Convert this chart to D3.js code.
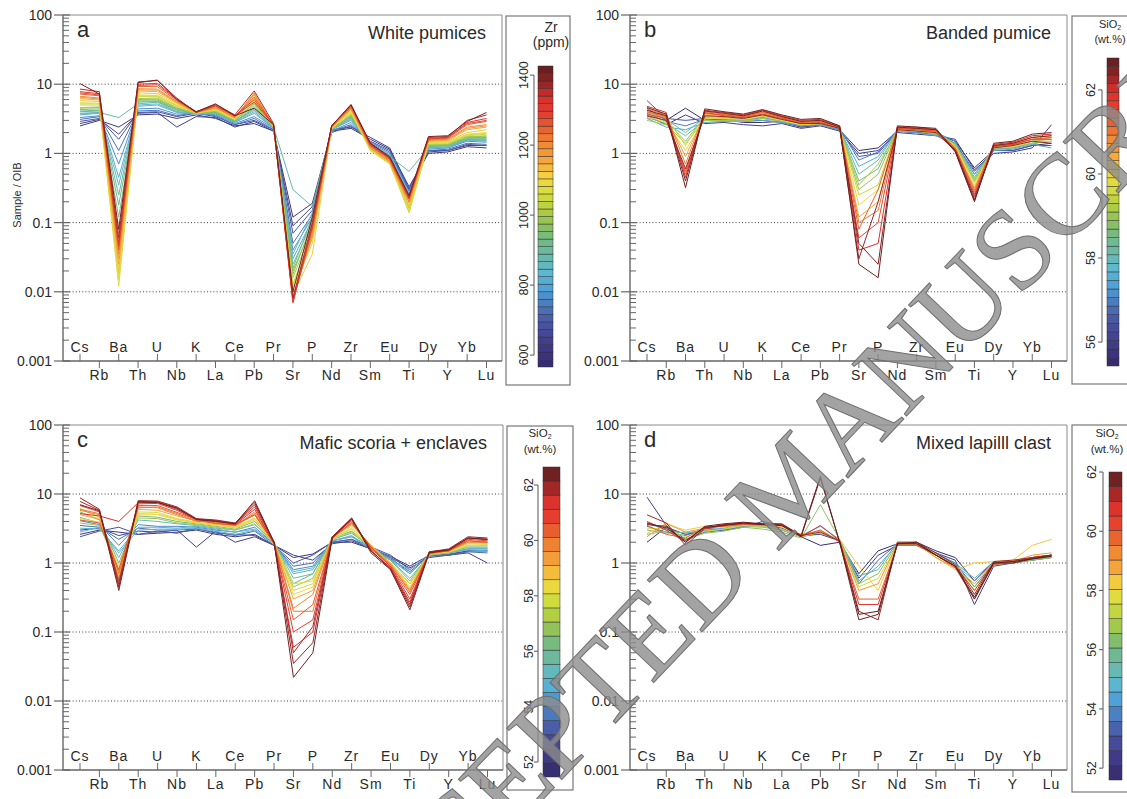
<!DOCTYPE html>
<html>
<head>
<meta charset="utf-8">
<script src="https://cdn.jsdelivr.net/npm/d3@7"></script>
<style>
body { margin: 0; background: #fff; }
svg { display: block; }
text { font-family: "Liberation Sans", Arial, sans-serif; fill: #2a2a2a; }
</style>
</head>
<body>
<svg id="chart" width="1127" height="799"></svg>
<script>
// element order of the OIB-normalised spider diagram
const elements = ["Cs","Rb","Ba","Th","U","Nb","K","La","Ce","Pb","Pr","Sr","P","Nd","Zr","Sm","Eu","Ti","Dy","Y","Yb","Lu"];
const yTicks = [100, 10, 1, 0.1, 0.01, 0.001];
const yTickLabels = ["100", "10", "1", "0.1", "0.01", "0.001"];
const gridValues = [10, 1, 0.1, 0.01];

// a - white pumices, coloured by Zr (ppm)
const zrA = [620, 650, 690, 730, 770, 820, 880, 900, 950, 1000, 1040, 1080, 1120, 1160, 1200, 1250, 1300, 1360, 1400,
  840, 920, 980, 1060, 1180, 1280];
const whitePumices = [
  [2.5, 3.0, 2.4, 3.6, 3.7, 3.2, 3.6, 3.2, 2.5, 2.7, 2.1, 0.12, 0.19, 2.1, 2.3, 1.6, 1.15, 0.33, 1.0, 1.05, 1.25, 1.2],
  [2.7, 3.1, 1.9, 3.8, 3.9, 2.4, 3.4, 3.3, 2.4, 2.9, 2.1, 0.09, 0.17, 2.2, 2.4, 1.7, 1.2, 0.3, 1.05, 1.1, 1.3, 1.3],
  [2.9, 3.2, 1.6, 3.9, 4.0, 3.4, 3.8, 3.4, 2.6, 3.0, 2.2, 0.07, 0.15, 2.0, 2.5, 1.5, 1.1, 0.31, 1.1, 1.1, 1.35, 1.3],
  [3.1, 3.4, 1.1, 4.1, 4.2, 3.5, 3.9, 3.5, 2.6, 3.2, 2.2, 0.05, 0.13, 2.1, 2.6, 1.45, 1.05, 0.29, 1.1, 1.15, 1.4, 1.35],
  [3.3, 3.5, 0.7, 4.4, 4.5, 3.7, 3.8, 3.6, 2.7, 3.4, 2.3, 0.04, 0.12, 2.1, 2.8, 1.4, 1.0, 0.28, 1.15, 1.2, 1.5, 1.45],
  [3.6, 3.8, 0.45, 4.8, 5.0, 3.9, 3.7, 3.7, 2.8, 3.8, 2.3, 0.03, 0.11, 2.2, 3.0, 1.35, 0.95, 0.26, 1.2, 1.2, 1.55, 1.5],
  [3.8, 3.9, 3.3, 5.2, 5.5, 4.0, 3.8, 3.8, 2.9, 4.2, 2.4, 0.3, 0.17, 2.2, 3.2, 1.3, 0.9, 0.55, 1.2, 1.25, 1.6, 1.55],
  [4.0, 4.1, 0.25, 5.5, 5.6, 4.2, 3.8, 3.9, 2.9, 4.4, 2.3, 0.025, 0.1, 2.2, 3.3, 1.3, 0.9, 0.22, 1.25, 1.3, 1.6, 1.6],
  [4.3, 4.4, 0.12, 5.9, 5.9, 4.4, 3.9, 4.0, 3.0, 4.9, 2.4, 0.02, 0.09, 2.3, 3.5, 1.25, 0.85, 0.2, 1.3, 1.3, 1.7, 1.7],
  [4.6, 4.7, 0.05, 6.2, 6.3, 4.6, 3.8, 4.1, 3.0, 5.4, 2.4, 0.016, 0.08, 2.2, 3.7, 1.2, 0.8, 0.16, 1.35, 1.35, 1.75, 1.8],
  [5.0, 5.0, 0.02, 6.6, 6.6, 4.8, 3.9, 4.2, 3.1, 5.8, 2.4, 0.013, 0.07, 2.3, 3.9, 1.15, 0.75, 0.14, 1.4, 1.4, 1.8, 1.9],
  [5.4, 5.3, 0.012, 7.0, 6.9, 5.0, 3.8, 4.3, 3.1, 6.2, 2.5, 0.011, 0.05, 2.3, 4.0, 1.1, 0.7, 0.15, 1.45, 1.45, 1.9, 2.0],
  [5.8, 5.6, 0.018, 7.5, 7.3, 5.2, 3.9, 4.4, 3.2, 6.6, 2.5, 0.009, 0.035, 2.3, 4.2, 1.15, 0.72, 0.17, 1.5, 1.5, 2.0, 2.2],
  [6.2, 5.9, 0.025, 8.0, 7.8, 5.4, 3.9, 4.5, 3.3, 7.0, 2.5, 0.009, 0.06, 2.4, 4.4, 1.2, 0.75, 0.19, 1.5, 1.55, 2.2, 2.4],
  [6.7, 6.3, 0.035, 8.6, 8.5, 5.6, 4.0, 4.6, 3.3, 7.5, 2.5, 0.008, 0.07, 2.4, 4.5, 1.25, 0.78, 0.2, 1.55, 1.6, 2.4, 2.6],
  [7.2, 6.8, 0.04, 9.3, 9.2, 5.8, 3.9, 4.8, 3.4, 6.5, 2.6, 0.008, 0.08, 2.4, 4.7, 1.3, 0.82, 0.22, 1.6, 1.65, 2.6, 2.9],
  [7.8, 7.3, 0.05, 10.0, 10.3, 6.1, 4.0, 4.9, 3.5, 5.5, 2.6, 0.007, 0.09, 2.5, 4.9, 1.35, 0.85, 0.23, 1.65, 1.7, 2.8, 3.2],
  [8.5, 7.8, 0.06, 10.8, 11.3, 6.3, 3.9, 5.1, 3.6, 8.0, 2.7, 0.008, 0.1, 2.5, 5.0, 1.4, 0.87, 0.25, 1.7, 1.75, 3.0, 3.6],
  [10.2, 7.2, 0.08, 10.5, 11.5, 6.0, 4.0, 5.2, 3.5, 4.5, 2.6, 0.01, 0.12, 2.5, 5.1, 1.4, 0.9, 0.24, 1.75, 1.8, 2.9, 3.9],
  [3.7, 3.9, 0.35, 5.0, 5.2, 4.0, 3.8, 3.8, 2.8, 4.0, 2.3, 0.035, 0.14, 2.2, 3.1, 1.35, 0.95, 0.25, 1.2, 1.25, 1.55, 1.55],
  [4.1, 4.2, 0.18, 5.7, 5.7, 4.3, 3.9, 3.9, 2.9, 4.6, 2.4, 0.022, 0.12, 2.3, 3.4, 1.3, 0.88, 0.21, 1.25, 1.3, 1.65, 1.65],
  [4.5, 4.6, 0.07, 6.0, 6.1, 4.5, 3.8, 4.0, 3.0, 5.2, 2.4, 0.018, 0.1, 2.2, 3.6, 1.2, 0.8, 0.17, 1.3, 1.35, 1.75, 1.75],
  [5.2, 5.2, 0.015, 6.8, 6.8, 4.9, 3.9, 4.3, 3.1, 6.0, 2.5, 0.012, 0.06, 2.3, 3.9, 1.1, 0.72, 0.14, 1.45, 1.45, 1.85, 1.95],
  [6.5, 6.1, 0.03, 8.3, 8.2, 5.5, 3.9, 4.6, 3.3, 7.2, 2.5, 0.008, 0.065, 2.4, 4.4, 1.2, 0.76, 0.2, 1.55, 1.6, 2.3, 2.5],
  [7.5, 7.0, 0.045, 9.6, 9.8, 6.0, 4.0, 4.9, 3.5, 6.0, 2.6, 0.007, 0.085, 2.5, 4.8, 1.3, 0.84, 0.22, 1.6, 1.7, 2.7, 3.0]
];

// b - banded pumice, coloured by SiO2 (wt.%)
const sio2B = [55.6, 56.0, 56.5, 57.0, 57.5, 58.0, 58.5, 59.0, 59.5, 60.0, 60.5, 61.0, 61.5, 62.0, 62.3, 62.6, 59.2, 61.2, 62.5];
const bandedPumice = [
  [4.5, 3.0, 4.5, 3.0, 3.1, 2.8, 2.8, 2.9, 2.4, 2.6, 2.2, 1.1, 1.2, 2.1, 2.0, 1.9, 1.5, 0.62, 1.1, 1.1, 1.3, 1.4],
  [3.5, 2.6, 3.6, 2.7, 2.8, 2.6, 2.5, 2.7, 2.3, 2.5, 2.1, 1.0, 1.1, 2.0, 1.9, 1.8, 1.6, 0.58, 1.0, 1.05, 1.2, 2.6],
  [5.8, 3.2, 3.0, 3.2, 3.0, 2.9, 3.0, 2.8, 2.4, 2.6, 2.2, 0.9, 1.0, 2.1, 2.0, 1.9, 1.4, 0.55, 1.1, 1.1, 1.3, 1.3],
  [3.8, 2.9, 2.5, 3.1, 3.2, 3.0, 3.3, 2.9, 2.5, 2.7, 2.3, 0.8, 1.05, 2.2, 2.1, 2.0, 1.5, 0.5, 1.15, 1.2, 1.4, 1.5],
  [3.2, 2.4, 2.2, 2.8, 2.9, 3.1, 3.0, 2.8, 2.5, 2.6, 2.2, 0.65, 0.9, 2.1, 2.0, 1.8, 1.3, 0.5, 1.1, 1.15, 1.35, 1.2],
  [4.0, 3.1, 2.0, 3.3, 3.1, 3.2, 3.5, 3.0, 2.6, 2.8, 2.3, 0.5, 0.8, 2.2, 2.2, 2.0, 1.4, 0.45, 1.2, 1.25, 1.5, 1.6],
  [3.3, 2.7, 1.8, 3.0, 2.9, 2.9, 3.2, 2.9, 2.6, 2.6, 2.3, 0.4, 0.6, 2.3, 2.1, 1.9, 1.35, 0.42, 1.15, 1.2, 1.4, 1.5],
  [3.6, 2.9, 1.5, 3.4, 3.3, 3.0, 3.4, 3.1, 2.7, 2.9, 2.4, 0.3, 0.5, 2.2, 2.2, 2.0, 1.3, 0.4, 1.25, 1.3, 1.5, 1.7],
  [4.2, 3.4, 1.3, 3.6, 3.4, 3.3, 3.6, 3.2, 2.8, 2.8, 2.3, 0.25, 0.35, 2.3, 2.3, 2.1, 1.3, 0.38, 1.2, 1.3, 1.6, 1.6],
  [3.4, 2.8, 1.1, 3.2, 3.2, 3.1, 3.5, 3.0, 2.6, 2.7, 2.3, 0.18, 0.3, 2.2, 2.1, 2.0, 1.25, 0.35, 1.2, 1.25, 1.5, 1.5],
  [3.9, 3.3, 0.9, 3.7, 3.6, 3.4, 3.8, 3.3, 2.8, 2.9, 2.4, 0.12, 0.2, 2.4, 2.2, 2.1, 1.2, 0.32, 1.3, 1.35, 1.6, 1.7],
  [4.4, 3.6, 0.7, 4.0, 3.7, 3.5, 4.0, 3.4, 2.9, 3.0, 2.4, 0.1, 0.15, 2.3, 2.3, 2.2, 1.2, 0.3, 1.3, 1.4, 1.7, 1.8],
  [3.7, 3.2, 0.55, 3.9, 3.5, 3.3, 3.7, 3.2, 2.7, 2.8, 2.3, 0.06, 0.1, 2.3, 2.2, 2.1, 1.15, 0.26, 1.25, 1.35, 1.6, 1.6],
  [4.8, 3.9, 0.45, 4.2, 3.9, 3.6, 4.2, 3.5, 3.0, 3.1, 2.5, 0.04, 0.05, 2.4, 2.4, 2.2, 1.1, 0.22, 1.35, 1.45, 1.8, 1.9],
  [3.5, 3.0, 0.6, 3.5, 3.4, 3.2, 3.6, 3.1, 2.7, 2.7, 2.3, 0.03, 0.2, 2.2, 2.1, 2.0, 1.1, 0.24, 1.2, 1.3, 1.5, 1.4],
  [4.6, 3.7, 0.32, 4.4, 4.0, 3.7, 4.3, 3.6, 3.1, 3.2, 2.5, 0.025, 0.016, 2.5, 2.4, 2.3, 1.05, 0.2, 1.4, 1.5, 1.9, 2.0],
  [3.0, 2.6, 1.4, 3.0, 3.0, 2.9, 3.2, 2.9, 2.6, 2.7, 2.3, 0.35, 0.7, 2.1, 2.1, 1.9, 1.35, 0.42, 1.2, 1.25, 1.4, 1.5],
  [4.0, 3.4, 0.5, 3.8, 3.6, 3.4, 3.9, 3.3, 2.8, 2.9, 2.4, 0.08, 0.3, 2.3, 2.3, 2.1, 1.2, 0.28, 1.3, 1.35, 1.6, 1.7],
  [4.2, 3.5, 0.4, 4.1, 3.8, 3.5, 4.1, 3.4, 2.9, 3.0, 2.4, 0.05, 0.025, 2.4, 2.3, 2.2, 1.1, 0.21, 1.3, 1.4, 1.7, 1.8]
];

// c - mafic scoria + enclaves, coloured by SiO2 (wt.%)
const sio2C = [52.0, 52.5, 53.0, 53.5, 54.0, 54.8, 55.5, 56.2, 57.0, 57.8, 58.5, 59.2, 59.8, 60.5, 61.0, 61.5, 62.0, 62.4,
  55.0, 58.0, 60.0, 61.8];
const maficScoria = [
  [2.6, 3.0, 2.8, 2.6, 2.7, 2.8, 3.0, 2.6, 2.4, 2.6, 1.8, 1.2, 1.35, 2.0, 2.0, 1.6, 1.25, 0.9, 1.3, 1.3, 1.5, 1.5],
  [3.0, 3.2, 2.5, 2.9, 2.8, 3.0, 1.7, 2.9, 2.0, 2.4, 1.8, 1.3, 1.1, 1.9, 2.1, 1.6, 1.2, 0.85, 1.2, 1.3, 1.4, 1.0],
  [2.4, 2.9, 3.3, 2.6, 2.9, 2.7, 3.2, 2.7, 2.6, 2.5, 1.8, 1.0, 1.3, 2.0, 2.2, 1.7, 1.3, 0.8, 1.3, 1.35, 1.5, 1.5],
  [3.5, 3.3, 2.2, 3.2, 3.0, 3.0, 3.1, 2.8, 2.5, 2.9, 1.8, 0.9, 1.0, 2.0, 2.2, 1.6, 1.15, 0.75, 1.25, 1.3, 1.45, 1.4],
  [4.1, 3.6, 1.8, 3.6, 3.4, 3.4, 3.3, 3.0, 2.8, 3.3, 1.9, 0.8, 0.9, 2.1, 2.4, 1.7, 1.2, 0.7, 1.3, 1.4, 1.6, 1.6],
  [3.2, 3.1, 1.5, 3.3, 3.3, 3.2, 3.4, 3.1, 2.8, 3.1, 1.9, 0.7, 0.8, 2.1, 2.5, 1.6, 1.1, 0.8, 1.35, 1.4, 1.6, 1.6],
  [4.6, 3.8, 1.2, 4.2, 4.0, 3.7, 3.5, 3.2, 3.0, 3.6, 2.0, 0.6, 0.7, 2.2, 2.7, 1.7, 1.1, 0.6, 1.3, 1.4, 1.7, 1.7],
  [5.5, 4.2, 1.0, 4.8, 4.6, 4.0, 3.7, 3.4, 3.1, 4.0, 2.0, 0.5, 0.7, 2.3, 2.9, 1.7, 1.1, 0.55, 1.35, 1.45, 1.8, 1.8],
  [3.8, 3.5, 0.8, 4.5, 4.4, 3.8, 3.6, 3.3, 3.0, 3.7, 1.9, 0.45, 0.6, 2.2, 2.8, 1.6, 1.0, 0.5, 1.3, 1.4, 1.7, 1.7],
  [6.2, 4.6, 0.7, 5.5, 5.4, 4.4, 3.9, 3.6, 3.3, 4.5, 2.0, 0.4, 0.5, 2.3, 3.2, 1.7, 1.0, 0.5, 1.4, 1.5, 1.9, 1.9],
  [4.4, 3.9, 0.9, 5.0, 5.0, 4.2, 3.8, 3.5, 3.2, 4.2, 1.9, 0.35, 0.45, 2.4, 3.4, 1.8, 1.0, 0.45, 1.35, 1.45, 1.8, 1.8],
  [5.0, 4.3, 0.75, 6.0, 5.8, 4.8, 4.1, 3.8, 3.4, 5.0, 2.0, 0.3, 0.4, 2.4, 3.6, 1.8, 1.0, 0.42, 1.4, 1.5, 2.0, 2.0],
  [5.8, 5.0, 0.6, 6.5, 6.3, 5.0, 4.0, 3.9, 3.5, 5.5, 2.0, 0.22, 0.35, 2.3, 3.7, 1.7, 0.95, 0.4, 1.35, 1.5, 2.0, 2.0],
  [4.2, 3.8, 0.8, 6.8, 6.8, 5.4, 4.3, 3.7, 3.6, 5.0, 1.9, 0.15, 0.25, 2.3, 3.9, 1.7, 0.9, 0.35, 1.4, 1.55, 2.1, 2.0],
  [6.8, 5.5, 0.55, 7.2, 7.3, 5.8, 4.2, 4.0, 3.7, 6.5, 2.0, 0.1, 0.15, 2.4, 4.1, 1.6, 0.9, 0.3, 1.4, 1.5, 2.2, 2.1],
  [5.2, 4.8, 4.0, 7.5, 7.6, 6.0, 4.3, 4.1, 3.6, 6.0, 1.9, 0.06, 0.1, 2.3, 4.3, 1.5, 0.85, 0.27, 1.45, 1.55, 2.3, 2.2],
  [8.8, 6.0, 0.45, 8.0, 7.9, 6.5, 4.4, 4.2, 3.8, 7.5, 2.0, 0.035, 0.07, 2.4, 4.5, 1.5, 0.82, 0.23, 1.45, 1.6, 2.4, 2.3],
  [7.0, 5.7, 0.4, 7.7, 7.5, 6.2, 4.3, 4.0, 3.7, 8.0, 2.0, 0.022, 0.05, 2.3, 4.4, 1.4, 0.8, 0.21, 1.4, 1.55, 2.3, 2.2],
  [2.8, 3.3, 1.4, 3.0, 3.1, 3.1, 3.2, 2.9, 2.6, 3.0, 1.9, 0.75, 0.85, 2.1, 2.4, 1.6, 1.1, 0.7, 1.3, 1.4, 1.55, 1.5],
  [5.3, 4.4, 0.65, 5.2, 5.1, 4.3, 3.8, 3.6, 3.2, 4.4, 1.9, 0.5, 0.55, 2.2, 3.1, 1.6, 1.0, 0.5, 1.35, 1.45, 1.8, 1.85],
  [6.0, 5.2, 0.7, 6.3, 6.5, 5.2, 4.1, 3.8, 3.5, 5.2, 2.0, 0.2, 0.2, 2.4, 3.8, 1.7, 0.95, 0.38, 1.4, 1.5, 2.1, 2.0],
  [7.8, 5.8, 0.5, 7.8, 7.7, 6.3, 4.3, 4.1, 3.7, 7.0, 2.0, 0.05, 0.12, 2.4, 4.4, 1.5, 0.85, 0.25, 1.45, 1.55, 2.3, 2.2]
];

// d - mixed lapilli clast, coloured by SiO2 (wt.%)
const sio2D = [51.8, 52.5, 53.5, 54.5, 55.5, 56.5, 57.5, 58.3, 59.0, 59.8, 60.8, 61.3, 61.8, 61.95];
const mixedLapilli = [
  [2.0, 3.3, 2.6, 2.9, 3.1, 3.4, 3.6, 3.2, 2.4, 1.8, 2.0, 0.7, 1.5, 1.9, 2.0, 1.5, 1.2, 0.55, 1.05, 1.05, 1.1, 1.2],
  [9.0, 3.5, 2.2, 2.8, 3.0, 3.3, 4.0, 3.5, 2.5, 2.6, 2.1, 0.6, 1.3, 1.8, 1.8, 1.4, 1.1, 0.25, 0.9, 1.0, 1.1, 1.3],
  [3.4, 2.8, 2.5, 3.2, 3.0, 3.6, 3.4, 3.0, 2.4, 2.7, 2.1, 0.5, 1.1, 1.9, 1.9, 1.35, 1.0, 0.45, 1.0, 1.0, 1.15, 1.25],
  [3.8, 3.0, 2.7, 3.0, 3.2, 3.7, 3.5, 3.1, 2.5, 3.4, 2.2, 0.55, 0.9, 1.9, 1.9, 1.4, 1.0, 0.6, 1.05, 1.05, 1.2, 1.3],
  [3.0, 2.7, 2.8, 2.8, 3.1, 3.4, 3.3, 3.0, 2.4, 3.0, 2.1, 0.65, 0.8, 2.0, 2.0, 1.3, 0.95, 0.55, 1.0, 1.0, 1.1, 1.2],
  [2.6, 2.9, 2.2, 2.7, 2.9, 3.3, 3.1, 2.8, 2.3, 7.0, 2.2, 0.5, 0.7, 1.9, 1.8, 1.3, 0.9, 0.45, 0.95, 1.0, 1.1, 1.2],
  [3.2, 3.1, 2.4, 2.9, 3.1, 3.5, 3.4, 3.1, 2.4, 2.8, 2.1, 0.45, 0.6, 1.8, 1.9, 1.35, 0.9, 0.4, 1.0, 1.0, 1.2, 1.3],
  [2.7, 3.6, 3.0, 3.4, 3.3, 3.6, 3.6, 3.3, 2.6, 2.7, 2.2, 0.9, 0.4, 1.9, 2.0, 1.2, 0.8, 1.0, 1.05, 1.1, 1.8, 2.2],
  [2.4, 3.8, 2.8, 3.2, 3.6, 3.8, 3.6, 3.4, 2.6, 2.9, 2.1, 0.4, 0.5, 1.9, 1.9, 1.2, 0.85, 0.5, 1.0, 1.05, 1.3, 1.4],
  [3.5, 2.6, 2.3, 3.3, 3.4, 3.6, 3.7, 3.5, 2.5, 3.0, 2.0, 0.3, 0.3, 1.8, 1.8, 1.3, 0.85, 0.3, 0.95, 1.0, 1.2, 1.3],
  [4.0, 3.0, 2.0, 3.1, 3.5, 3.7, 3.6, 3.5, 2.4, 3.5, 2.1, 0.25, 0.25, 1.9, 1.9, 1.3, 0.9, 0.4, 1.0, 1.05, 1.2, 1.3],
  [5.0, 3.8, 1.8, 3.2, 3.6, 3.8, 3.7, 3.6, 2.5, 2.8, 2.1, 0.2, 0.15, 2.0, 2.0, 1.4, 0.95, 0.35, 1.05, 1.1, 1.2, 1.3],
  [3.6, 3.4, 2.0, 3.4, 3.7, 3.9, 3.7, 3.7, 2.5, 18.0, 2.0, 0.15, 0.18, 1.9, 2.0, 1.3, 0.9, 0.3, 1.0, 1.05, 1.15, 1.3],
  [3.8, 3.2, 2.1, 3.3, 3.5, 3.8, 3.6, 3.5, 2.4, 17.0, 2.0, 0.18, 0.2, 1.9, 1.9, 1.3, 0.9, 0.32, 1.0, 1.0, 1.15, 1.25]
];

// colour bar ticks
const zrTicks = [600, 800, 1000, 1200, 1400];
const sio2TicksB = [56, 58, 60, 62];
const sio2TicksCD = [52, 54, 56, 58, 60, 62];

// rainbow used by every colour bar, bottom to top
const palette = ["#352a66", "#3d3680", "#434595", "#4a5ca7", "#4a7ec0", "#4fa3d8", "#5eb8d0", "#69b9a9",
  "#72b987", "#8fc15a", "#b5cf3f", "#d7de3e", "#f5d43e", "#f4a73c", "#f08c33", "#e8622f",
  "#e53d2e", "#d9302d", "#8b2424", "#5c1f1f"];
const rainbow = d3.piecewise(d3.interpolateRgb, palette);

const svg = d3.select('#chart');

const panels = [
  { letter: 'a', title: 'White pumices', left: 63, right: 502, top: 15, bottom: 361, values: zrA, rows: whitePumices, yLabel: true,
    bar: { box: [506, 16, 64, 369], barX: 538, barW: 15, range: [367, 66], domain: [566, 1426], ticks: zrTicks,
           axisX: 534, labelX: 528, segments: 40, titleX: 551, title: [['Zr', 32], ['(ppm)', 47]], titleSize: 14 } },
  { letter: 'b', title: 'Banded pumice', left: 630, right: 1067, top: 15, bottom: 361, values: sio2B, rows: bandedPumice,
    bar: { box: [1072, 16, 60, 368], barX: 1107, barW: 12, range: [366, 58], domain: [55.43, 62.76], ticks: sio2TicksB,
           axisX: 1102, labelX: 1095, segments: 36, titleX: 1110, title: [['SiO2', 28], ['(wt.%)', 43]], titleSize: 11 } },
  { letter: 'c', title: 'Mafic scoria + enclaves', left: 63, right: 503, top: 425, bottom: 770, values: sio2C, rows: maficScoria,
    bar: { box: [507, 426, 66, 364], barX: 543, barW: 17, range: [777, 467], domain: [51.46, 62.65], ticks: sio2TicksCD,
           axisX: 538, labelX: 533, segments: 22, titleX: 540, title: [['SiO2', 437], ['(wt.%)', 453]], titleSize: 11.5 } },
  { letter: 'd', title: 'Mixed lapilll clast', left: 630, right: 1067, top: 425, bottom: 770, values: sio2D, rows: mixedLapilli,
    bar: { box: [1072, 425, 60, 367], barX: 1109, barW: 13, range: [780, 472], domain: [51.6, 62.0], ticks: sio2TicksCD,
           axisX: 1103, labelX: 1096, segments: 21, titleX: 1107, title: [['SiO2', 437], ['(wt.%)', 453]], titleSize: 11.5 } }
];

function drawPanel(p){
  const g = svg.append('g');
  const x = d3.scalePoint().domain(elements).range([p.left + 17, p.right - 15.5]);
  const y = d3.scaleLog().domain([0.001, 100]).range([p.bottom, p.top]);
  const toUnit = d3.scaleLinear().domain(p.bar.domain).range([0, 1]).clamp(true);

  // dotted grid
  g.selectAll('line.grid').data(gridValues).join('line')
    .attr('class', 'grid')
    .attr('x1', p.left).attr('x2', p.right)
    .attr('y1', d => y(d)).attr('y2', d => y(d))
    .attr('stroke', '#444').attr('stroke-width', 1).attr('stroke-dasharray', '1,2.2');

  // samples, high values drawn last
  const line = d3.line().x((d, i) => x(elements[i])).y(d => y(d));
  const order = d3.range(p.rows.length).sort((a, b) => p.values[a] - p.values[b]);
  g.selectAll('path.sample').data(order).join('path')
    .attr('class', 'sample')
    .attr('d', i => line(p.rows[i]))
    .attr('fill', 'none')
    .attr('stroke', i => rainbow(toUnit(p.values[i])))
    .attr('stroke-width', 1)
    .attr('stroke-linejoin', 'round');

  // frame
  g.append('path')
    .attr('d', `M${p.left},${p.top}H${p.right}V${p.bottom}`)
    .attr('fill', 'none').attr('stroke', '#8a8a8a').attr('stroke-width', 1);
  g.append('path')
    .attr('d', `M${p.left},${p.top}V${p.bottom}H${p.right}`)
    .attr('fill', 'none').attr('stroke', '#666').attr('stroke-width', 1.4);

  // y ticks
  const minor = [];
  [0.001, 0.01, 0.1, 1, 10].forEach(dec => d3.range(2, 10).forEach(k => minor.push(dec * k)));
  g.selectAll('line.minor').data(minor).join('line')
    .attr('x1', p.left).attr('x2', p.left + 6)
    .attr('y1', d => y(d)).attr('y2', d => y(d))
    .attr('stroke', '#666').attr('stroke-width', 1);
  g.selectAll('line.major').data(yTicks).join('line')
    .attr('x1', p.left - 9).attr('x2', p.left + 7)
    .attr('y1', d => y(d)).attr('y2', d => y(d))
    .attr('stroke', '#666').attr('stroke-width', 1.2);
  g.selectAll('text.ytick').data(yTicks).join('text')
    .attr('x', p.left - 11).attr('y', d => y(d))
    .attr('dy', '0.36em')
    .attr('text-anchor', 'end')
    .style('font-size', '14px')
    .text((d, i) => yTickLabels[i]);

  // x ticks alternate above and below the axis
  g.selectAll('line.xtick').data(elements).join('line')
    .attr('x1', d => x(d)).attr('x2', d => x(d))
    .attr('y1', p.bottom)
    .attr('y2', (d, i) => i % 2 == 0 ? p.bottom - 7 : p.bottom + 7)
    .attr('stroke', '#666').attr('stroke-width', 1);
  g.selectAll('text.xtick').data(elements).join('text')
    .attr('x', d => x(d))
    .attr('y', (d, i) => i % 2 == 0 ? p.bottom - 9.5 : p.bottom + 19)
    .attr('text-anchor', 'middle')
    .style('font-size', '14px').style('letter-spacing', '1px')
    .text(d => d);

  g.append('text')
    .attr('x', p.left + 14).attr('y', p.top + 22)
    .style('font-size', '22px')
    .text(p.letter);
  g.append('text')
    .attr('x', p.right - 16).attr('y', p.top + 24)
    .attr('text-anchor', 'end')
    .style('font-size', '18px')
    .text(p.title);

  if(p.yLabel){
    g.append('text')
      .attr('transform', 'translate(21,195) rotate(-90)')
      .attr('text-anchor', 'middle')
      .style('font-size', '11px')
      .text('Sample / OIB');
  }
}

function drawColorbar(b){
  const g = svg.append('g');
  const yc = d3.scaleLinear().domain(b.domain).range(b.range);
  const step = (b.domain[1] - b.domain[0]) / b.segments;
  const segs = d3.range(b.segments).map(i => b.domain[0] + i * step);

  g.append('rect')
    .attr('x', b.box[0]).attr('y', b.box[1]).attr('width', b.box[2]).attr('height', b.box[3])
    .attr('fill', 'none').attr('stroke', '#777').attr('stroke-width', 1.2);

  g.selectAll('rect.seg').data(segs).join('rect')
    .attr('x', b.barX).attr('width', b.barW)
    .attr('y', d => yc(d + step)).attr('height', d => yc(d) - yc(d + step))
    .attr('fill', d => rainbow((d + step / 2 - b.domain[0]) / (b.domain[1] - b.domain[0])))
    .attr('stroke', '#2a2a2a').attr('stroke-width', 0.6).attr('stroke-opacity', 0.8);

  const ext = d3.extent(b.ticks);
  g.append('line')
    .attr('x1', b.axisX).attr('x2', b.axisX)
    .attr('y1', yc(ext[0])).attr('y2', yc(ext[1]))
    .attr('stroke', '#555').attr('stroke-width', 1);
  g.selectAll('line.ctick').data(b.ticks).join('line')
    .attr('x1', b.axisX - 4).attr('x2', b.axisX)
    .attr('y1', d => yc(d)).attr('y2', d => yc(d))
    .attr('stroke', '#555').attr('stroke-width', 1);
  g.selectAll('text.ctick').data(b.ticks).join('text')
    .attr('transform', d => `translate(${b.labelX},${yc(d)}) rotate(-90)`)
    .attr('text-anchor', 'middle')
    .style('font-size', '12.5px')
    .text(d => d);

  b.title.forEach(([t, ty]) => {
    const txt = g.append('text')
      .attr('x', b.titleX).attr('y', ty)
      .attr('text-anchor', 'middle')
      .style('font-size', b.titleSize + 'px');
    if(t == 'SiO2'){
      txt.append('tspan').text('SiO');
      txt.append('tspan').attr('dy', 2).style('font-size', '7px').text('2');
    }else{
      txt.text(t);
    }
  });
}

panels.forEach(p => {
  drawPanel(p);
  drawColorbar(p.bar);
});

// watermark of the manuscript
svg.append('text')
  .attr('transform', 'translate(790,484) rotate(-46.5)')
  .attr('text-anchor', 'middle')
  .attr('dy', '0.33em')
  .style('font-family', '"Liberation Serif", "Times New Roman", serif')
  .style('font-size', '115px')
  .style('fill', '#8c8c8c')
  .style('fill-opacity', 0.8)
  .style('stroke', '#6e6e6e')
  .style('stroke-width', 1)
  .text('ACCEPTED MANUSCRIPT');
</script>
</body>
</html>
